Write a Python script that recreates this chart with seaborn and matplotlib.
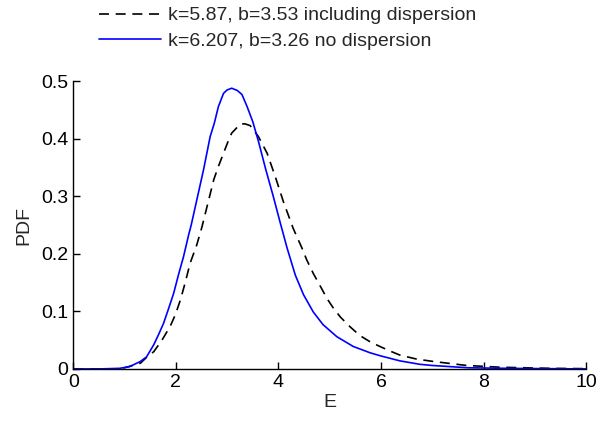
import numpy as np
import pandas as pd
import matplotlib
matplotlib.use("Agg")
import matplotlib.pyplot as plt
import seaborn as sns

# valori
e_disp = [0, 0.8, 1.0, 1.31, 1.43, 1.57, 1.73, 1.89, 1.99, 2.09, 2.18, 2.28, 2.41, 2.51,
          2.74, 2.83, 2.93, 3.03, 3.09, 3.26, 3.35, 3.45, 3.61, 3.78, 3.94, 4.10, 4.29,
          4.46, 4.55, 4.68, 4.81, 4.95, 5.07, 5.21, 5.40, 5.59, 5.79, 5.98, 6.18, 6.37,
          6.70, 7.02, 7.67, 8.32, 9.3, 10]
pdf_disp = [0, 0, 0.002, 0.010, 0.020, 0.030, 0.050, 0.074, 0.094, 0.120, 0.149, 0.184,
            0.216, 0.247, 0.329, 0.352, 0.375, 0.398, 0.410, 0.426, 0.426, 0.423, 0.404,
            0.375, 0.334, 0.290, 0.244, 0.210, 0.190, 0.166, 0.145, 0.122, 0.106, 0.090,
            0.073, 0.058, 0.047, 0.039, 0.031, 0.024, 0.017, 0.013, 0.006, 0.003, 0.001,
            0.0005]

e_nodisp = [0, 0.5, 0.9, 1.1, 1.31, 1.43, 1.57, 1.66, 1.76, 1.86, 1.96, 2.05, 2.15, 2.25,
            2.3, 2.54, 2.67, 2.75, 2.83, 2.93, 3.0, 3.09, 3.2, 3.29, 3.39, 3.5, 3.61, 3.75,
            3.9, 4.03, 4.17, 4.33, 4.49, 4.68, 4.87, 5.14, 5.46, 5.79, 5.98, 6.37, 6.76,
            7.0, 7.7, 8.5, 10]
pdf_nodisp = [0, 0, 0.001, 0.004, 0.013, 0.021, 0.042, 0.059, 0.079, 0.105, 0.132, 0.163,
              0.195, 0.233, 0.250, 0.346, 0.404, 0.427, 0.456, 0.479, 0.485, 0.488, 0.484,
              0.477, 0.456, 0.430, 0.396, 0.348, 0.300, 0.256, 0.210, 0.163, 0.129, 0.099,
              0.077, 0.056, 0.039, 0.028, 0.023, 0.014, 0.008, 0.006, 0.002, 0.001, 0]

labels = ["k=5.87, b=3.53 including dispersion", "k=6.207, b=3.26 no dispersion"]

df1 = pd.DataFrame({"E": e_disp, "PDF": pdf_disp})
df2 = pd.DataFrame({"E": e_nodisp, "PDF": pdf_nodisp})

sns.set_style("ticks")
plt.rcParams["font.family"] = ["Liberation Sans", "DejaVu Sans"]
plt.rcParams["xtick.direction"] = "in"
plt.rcParams["ytick.direction"] = "in"

fig = plt.figure(figsize=(6, 4.28), dpi=100)
ax = fig.add_axes([0.122, 0.138, 0.855, 0.672])

sns.lineplot(data=df1, x="E", y="PDF", ax=ax, color="black", lw=1.2,
             estimator=None, sort=False, label=labels[0])
ax.lines[-1].set_dashes((6, 4))
sns.lineplot(data=df2, x="E", y="PDF", ax=ax, color="#0000ff", lw=1.2,
             estimator=None, sort=False, label=labels[1])

ax.set_xlim(0, 10)
ax.set_ylim(0, 0.5)
ax.set_xticks([0, 2, 4, 6, 8, 10])
ax.set_yticks([0, 0.1, 0.2, 0.3, 0.4, 0.5])
ax.set_yticklabels(["0", "0.1", "0.2", "0.3", "0.4", "0.5"])
ax.tick_params(labelsize=14, length=5, width=1, colors="black")
ax.set_xlabel("E", fontsize=14, labelpad=2)
ax.set_ylabel("PDF", fontsize=14, labelpad=6)
for s in ["left", "bottom"]:
    ax.spines[s].set_color("black")
    ax.spines[s].set_linewidth(1)
sns.despine(ax=ax)

handles, labs = ax.get_legend_handles_labels()
ax.get_legend().remove()
fig.legend(handles, labs, loc="upper left", bbox_to_anchor=(0.135, 1.025),
           frameon=False, fontsize=14, handlelength=3.2, handletextpad=0.4,
           labelspacing=0.4)

fig.savefig("out.png", dpi=100)
